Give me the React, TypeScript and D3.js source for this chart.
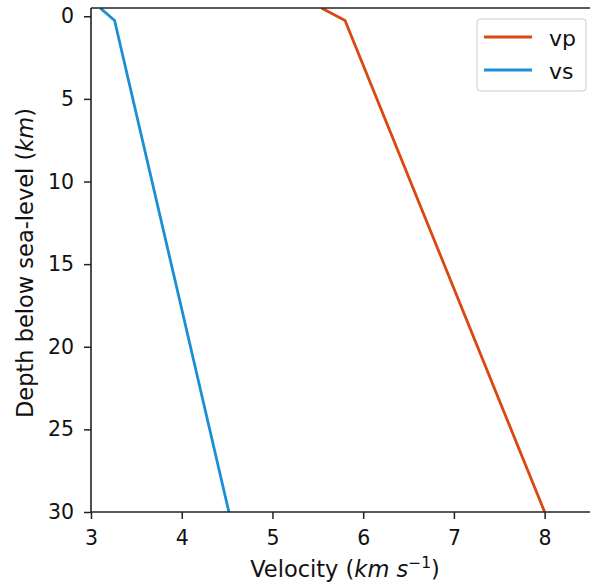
import React, { useEffect, useRef } from 'react';
import * as d3 from 'd3';

// velocity profile
const depths = [-0.5, 0.25, 30];
const vpValues = [5.54, 5.8, 8.0];
const vsValues = [3.1, 3.26, 4.52];
const xTicks = [3, 4, 5, 6, 7, 8];
const yTicks = [0, 5, 10, 15, 20, 25, 30];
const seriesNames = ['vp', 'vs'];
const seriesColors = ['#d9480f', '#1a8fd6'];

const W = 590;
const H = 586;
const margin = { top: 8, right: 0, bottom: 74, left: 91 };

export default function App() {
  const ref = useRef<SVGSVGElement>(null);

  useEffect(() => {
    const svg = d3.select(ref.current);
    svg.selectAll('*').remove();

    const x = d3.scaleLinear().domain([3, 8.5]).range([margin.left, W - margin.right]);
    const y = d3.scaleLinear().domain([-0.5, 30]).range([margin.top, H - margin.bottom]);
    const font = 'DejaVu Sans, sans-serif';

    svg.append('defs').append('clipPath').attr('id', 'plot-clip')
      .append('rect')
      .attr('x', margin.left).attr('y', margin.top)
      .attr('width', W - margin.left - margin.right)
      .attr('height', H - margin.top - margin.bottom);

    const line = d3.line<[number, number]>()
      .x(d => x(d[0]))
      .y(d => y(d[1]));

    const series = [vpValues, vsValues];
    series.forEach((vals, i) => {
      svg.append('path')
        .datum(vals.map((v, j) => [v, depths[j]] as [number, number]))
        .attr('clip-path', 'url(#plot-clip)')
        .attr('fill', 'none')
        .attr('stroke', seriesColors[i])
        .attr('stroke-width', 2.8)
        .attr('d', line);
    });

    // spines
    const spine = svg.append('g').attr('stroke', '#222').attr('stroke-width', 1.6);
    spine.append('line').attr('x1', margin.left).attr('x2', margin.left)
      .attr('y1', margin.top).attr('y2', H - margin.bottom);
    spine.append('line').attr('x1', margin.left).attr('x2', W)
      .attr('y1', margin.top).attr('y2', margin.top);
    spine.append('line').attr('x1', margin.left).attr('x2', W)
      .attr('y1', H - margin.bottom).attr('y2', H - margin.bottom);

    const xAxis = d3.axisBottom(x).tickValues(xTicks).tickSize(7).tickPadding(11)
      .tickFormat(d3.format('d'));
    const gx = svg.append('g')
      .attr('transform', `translate(0,${H - margin.bottom})`)
      .call(xAxis);
    const yAxis = d3.axisLeft(y).tickValues(yTicks).tickSize(7).tickPadding(10)
      .tickFormat(d3.format('d'));
    const gy = svg.append('g')
      .attr('transform', `translate(${margin.left},0)`)
      .call(yAxis);
    [gx, gy].forEach(g => {
      g.select('.domain').remove();
      g.selectAll('line').attr('stroke', '#222').attr('stroke-width', 1.5);
      g.selectAll('text').attr('fill', '#111').attr('font-size', 20.5).attr('font-family', font);
    });

    // axis labels
    const xl = svg.append('text')
      .attr('x', 345).attr('y', 577)
      .attr('text-anchor', 'middle')
      .attr('font-family', font).attr('font-size', 22.5).attr('fill', '#111');
    xl.append('tspan').text('Velocity (');
    xl.append('tspan').attr('font-style', 'italic').text('km s');
    xl.append('tspan').attr('font-size', 15.5).attr('dy', -9).text('−1');
    xl.append('tspan').attr('dy', 9).text(')');

    const yl = svg.append('text')
      .attr('transform', `translate(33,263) rotate(-90)`)
      .attr('text-anchor', 'middle')
      .attr('font-family', font).attr('font-size', 22.5).attr('fill', '#111');
    yl.append('tspan').text('Depth below sea-level (');
    yl.append('tspan').attr('font-style', 'italic').text('km');
    yl.append('tspan').text(')');

    // legend
    const lg = svg.append('g').attr('transform', 'translate(477,19)');
    lg.append('rect')
      .attr('width', 109).attr('height', 72).attr('rx', 3)
      .attr('fill', 'white').attr('fill-opacity', 0.8)
      .attr('stroke', '#ccc').attr('stroke-width', 1);
    seriesNames.forEach((name, i) => {
      const yy = 18 + i * 33;
      lg.append('line')
        .attr('x1', 7).attr('x2', 55).attr('y1', yy).attr('y2', yy)
        .attr('stroke', seriesColors[i]).attr('stroke-width', 2.8);
      lg.append('text')
        .attr('x', 72).attr('y', yy + 9)
        .attr('font-family', font).attr('font-size', 22).attr('fill', '#111')
        .text(name);
    });
  }, []);

  return (
    <svg ref={ref} width={W} height={H}
      style={{ position: 'absolute', left: 0, top: 0, background: 'white' }} />
  );
}
